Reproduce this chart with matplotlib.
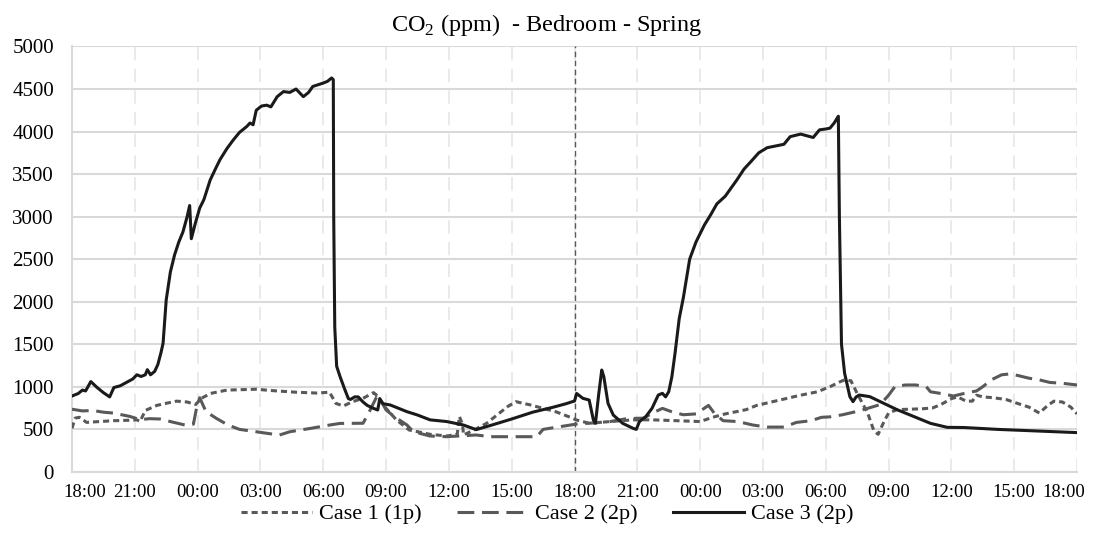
import matplotlib
matplotlib.use("Agg")
from matplotlib import pyplot as plt
from matplotlib import transforms

# hours since 18:00 on day 1
case1_hours = [0.0, 0.15, 0.35, 0.7, 1.3, 2.0, 2.7, 3.1, 3.25, 3.5, 4.05, 4.6, 5.0, 5.5, 5.9,
               6.2, 6.6, 7.4, 8.8, 9.5, 10.7, 11.7, 12.3, 12.6, 12.96, 13.4, 13.9, 14.4, 14.55,
               15.0, 15.5, 16.1, 17.1, 17.9, 18.4, 18.5, 18.65, 18.7, 19.2, 19.8, 20.4, 20.8,
               21.2, 21.9, 22.5, 23.1, 23.8, 24.1, 24.4, 24.7, 25.7, 26.8, 27.7, 28.9, 30.0,
               30.6, 31.2, 31.6, 32.2, 32.7, 33.4, 34.1, 34.8, 35.6, 36.2, 36.7, 36.9, 37.2,
               37.5, 38.0, 38.3, 38.5, 38.8, 39.0, 39.4, 40.0, 40.6, 41.1, 41.5, 42.0, 42.3,
               42.7, 43.0, 43.2, 43.5, 44.0, 44.6, 45.2, 45.7, 46.2, 46.6, 46.9, 47.3, 47.7, 48.0]
case1_ppm = [510, 630, 640, 580, 590, 600, 605, 610, 590, 720, 780, 810, 830, 820, 790,
             865, 920, 960, 970, 955, 935, 925, 935, 804, 773, 824, 863, 930, 900,
             745, 608, 491, 440, 420, 440, 650, 560, 432, 491, 569, 687, 765,
             824, 785, 745, 706, 640, 608, 589, 570, 590, 610, 610, 600, 590,
             640, 680, 700, 730, 780, 820, 860, 900, 940, 1000, 1060, 1080, 1070,
             920, 690, 480, 440, 600, 690, 730, 735, 740, 750, 790, 860, 880,
             830, 830, 900, 880, 870, 850, 800, 760, 690, 780, 830, 820, 760, 680]

case2_hours = [0.0, 0.5, 1.0, 1.5, 1.97, 2.77, 3.25, 3.7, 4.2, 4.8, 5.4, 5.8, 5.95, 6.1, 6.4,
               6.9, 7.45, 8.0, 8.8, 9.9, 10.4, 11.4, 12.3, 12.8, 13.9, 14.2, 14.55, 14.7, 15.0,
               15.4, 16.0, 16.3, 17.1, 17.9, 19.3, 20.0, 22.2, 22.5, 23.1, 23.8, 24.3, 24.7,
               25.7, 26.5, 27.3, 27.8, 28.2, 28.7, 29.2, 29.8, 30.1, 30.4, 30.7, 31.1, 31.8,
               32.5, 33.2, 34.0, 34.6, 35.3, 35.8, 36.2, 36.8, 37.5, 38.0, 38.6, 39.0, 39.3,
               39.8, 40.3, 40.8, 41.0, 41.5, 42.1, 42.6, 43.2, 43.5, 43.9, 44.4, 44.8, 45.2,
               45.7, 46.2, 46.7, 47.3, 48.0]
case2_ppm = [735, 715, 720, 700, 690, 650, 612, 624, 620, 584, 549, 560, 750, 870, 706,
             627, 549, 498, 470, 431, 470, 510, 549, 568, 570, 706, 880, 860, 726,
             647, 549, 471, 420, 412, 432, 412, 412, 498, 522, 549, 569, 570,
             590, 625, 630, 700, 745, 700, 670, 680, 730, 780, 680, 600, 590,
             550, 525, 525, 580, 600, 640, 645, 670, 710, 745, 790, 900, 1000,
             1020, 1020, 1000, 940, 920, 890, 920, 950, 1000, 1080, 1140, 1150, 1130,
             1100, 1080, 1050, 1040, 1020]

case3_hours = [0.0, 0.3, 0.5, 0.65, 0.9, 1.2, 1.5, 1.8, 2.0, 2.3, 2.6, 2.9, 3.1, 3.3, 3.5,
               3.6, 3.75, 3.95, 4.1, 4.25, 4.35, 4.5, 4.7, 4.9, 5.1, 5.3, 5.5, 5.62, 5.7,
               5.9, 6.1, 6.3, 6.6, 6.85, 7.07, 7.4, 7.7, 8.0, 8.35, 8.5, 8.65, 8.8, 9.05,
               9.3, 9.5, 9.8, 10.1, 10.4, 10.7, 11.05, 11.3, 11.5, 12.0, 12.2, 12.4, 12.48,
               12.5, 12.55, 12.64, 12.8, 13.04, 13.2, 13.3, 13.5, 13.67, 13.9, 14.1, 14.4,
               14.6, 14.7, 14.85, 15.2, 15.6, 16.0, 16.5, 17.1, 17.9, 18.7, 19.3, 20.0,
               21.0, 22.0, 23.0, 23.6, 24.0, 24.1, 24.4, 24.7, 24.9, 25.0, 25.15, 25.3,
               25.4, 25.6, 25.85, 26.3, 26.8, 26.95, 27.1, 27.4, 27.7, 28.0, 28.2, 28.35,
               28.5, 28.65, 28.8, 29.0, 29.2, 29.5, 29.8, 30.2, 30.5, 30.8, 31.2, 31.75,
               32.1, 32.4, 32.8, 33.2, 33.6, 34.0, 34.3, 34.8, 35.1, 35.4, 35.7, 36.0,
               36.2, 36.4, 36.6, 36.65, 36.75, 36.9, 37.15, 37.3, 37.45, 37.6, 38.1, 38.6,
               39.4, 40.2, 41.0, 41.8, 42.6, 44.2, 45.75, 48.0]
case3_ppm = [890, 920, 960, 950, 1060, 990, 930, 880, 990, 1010, 1050, 1090, 1140, 1120, 1140,
             1200, 1140, 1180, 1260, 1400, 1510, 2020, 2350, 2550, 2700, 2820, 3000, 3130, 2740,
             2930, 3100, 3200, 3430, 3560, 3670, 3800, 3900, 3990, 4060, 4100, 4080, 4250, 4300,
             4310, 4290, 4410, 4470, 4460, 4500, 4410, 4460, 4530, 4570, 4590, 4630, 4610,
             3000, 1700, 1240, 1120, 960, 860, 850, 880, 880, 820, 780, 745,
             726, 860, 800, 785, 745, 706, 667, 610, 590, 549, 495, 545,
             620, 700, 760, 800, 832, 920, 863, 843, 610, 570, 900, 1196,
             1118, 804, 667, 569, 510, 498, 589, 647, 745, 902, 922, 880,
             941, 1118, 1392, 1800, 2050, 2500, 2700, 2900, 3020, 3150, 3240, 3430,
             3560, 3640, 3750, 3810, 3830, 3850, 3940, 3970, 3950, 3930, 4020, 4030,
             4040, 4100, 4180, 3000, 1500, 1157, 883, 824, 880, 902, 883, 824,
             730, 650, 569, 522, 520, 498, 483, 460]

tick_hours = list(range(0, 49, 3))
tick_labels = ["18:00", "21:00", "00:00", "03:00", "06:00", "09:00", "12:00", "15:00",
               "18:00", "21:00", "00:00", "03:00", "06:00", "09:00", "12:00", "15:00", "18:00"]
day_split = 24

plt.rcParams["font.family"] = ["Liberation Serif", "DejaVu Serif"]

fig = plt.figure(figsize=(10.94, 5.47), dpi=100, facecolor="w")
ax = fig.add_axes([0.0658, 0.1376, 0.9187, 0.7774])

grid_color = "#d9d9d9"
ax.set_axisbelow(True)
ax.yaxis.grid(True, color=grid_color, linewidth=1.5, linestyle="-")
ax.xaxis.grid(True, color="#e6e6e6", linewidth=1.2, linestyle=(0, (8, 5)))

ax.axvline(day_split, color="#595959", linewidth=1.0, linestyle=(0, (4, 2.5)), zorder=2)

ax.plot(case1_hours, case1_ppm, color="#595959", linewidth=2.2,
        linestyle=(0, (2.0, 1.3)), label="Case 1 (1p)", zorder=3)
ax.plot(case2_hours, case2_ppm, color="#595959", linewidth=2.2,
        linestyle=(0, (5.5, 2.5)), label="Case 2 (2p)", zorder=3)
ax.plot(case3_hours, case3_ppm, color="#1a1a1a", linewidth=2.2,
        linestyle="-", label="Case 3 (2p)", zorder=4)

ax.set_xlim(0, 48)
ax.set_ylim(0, 5000)
ax.set_yticks(range(0, 5001, 500))
ax.set_xticks(tick_hours)
ax.set_xticklabels(tick_labels)

for side in ["top", "right"]:
    ax.spines[side].set_visible(False)
for side in ["left", "bottom"]:
    ax.spines[side].set_color(grid_color)
    ax.spines[side].set_linewidth(1.5)

ax.tick_params(axis="y", length=0, pad=13, labelsize=15, colors="black")
ax.tick_params(axis="x", length=0, pad=9, labelsize=13.5, colors="black")

# Excel keeps the end labels inside the plot area
labels = ax.get_xticklabels()
labels[0].set_transform(labels[0].get_transform() +
                        transforms.ScaledTranslation(13 / 100, 0, fig.dpi_scale_trans))
labels[-1].set_transform(labels[-1].get_transform() +
                         transforms.ScaledTranslation(-13 / 100, 0, fig.dpi_scale_trans))

fig.text(0.5, 1 - 25 / 547, r"CO$_\mathregular{2}$ (ppm)  - Bedroom - Spring",
         ha="center", va="center", fontsize=17.5)

fig.legend(loc="center", bbox_to_anchor=(0.5, 1 - 514 / 547), ncol=3, frameon=False,
           fontsize=16, handlelength=3.2, handletextpad=0.3, columnspacing=1.6)

plt.savefig("out.png", dpi=100)
